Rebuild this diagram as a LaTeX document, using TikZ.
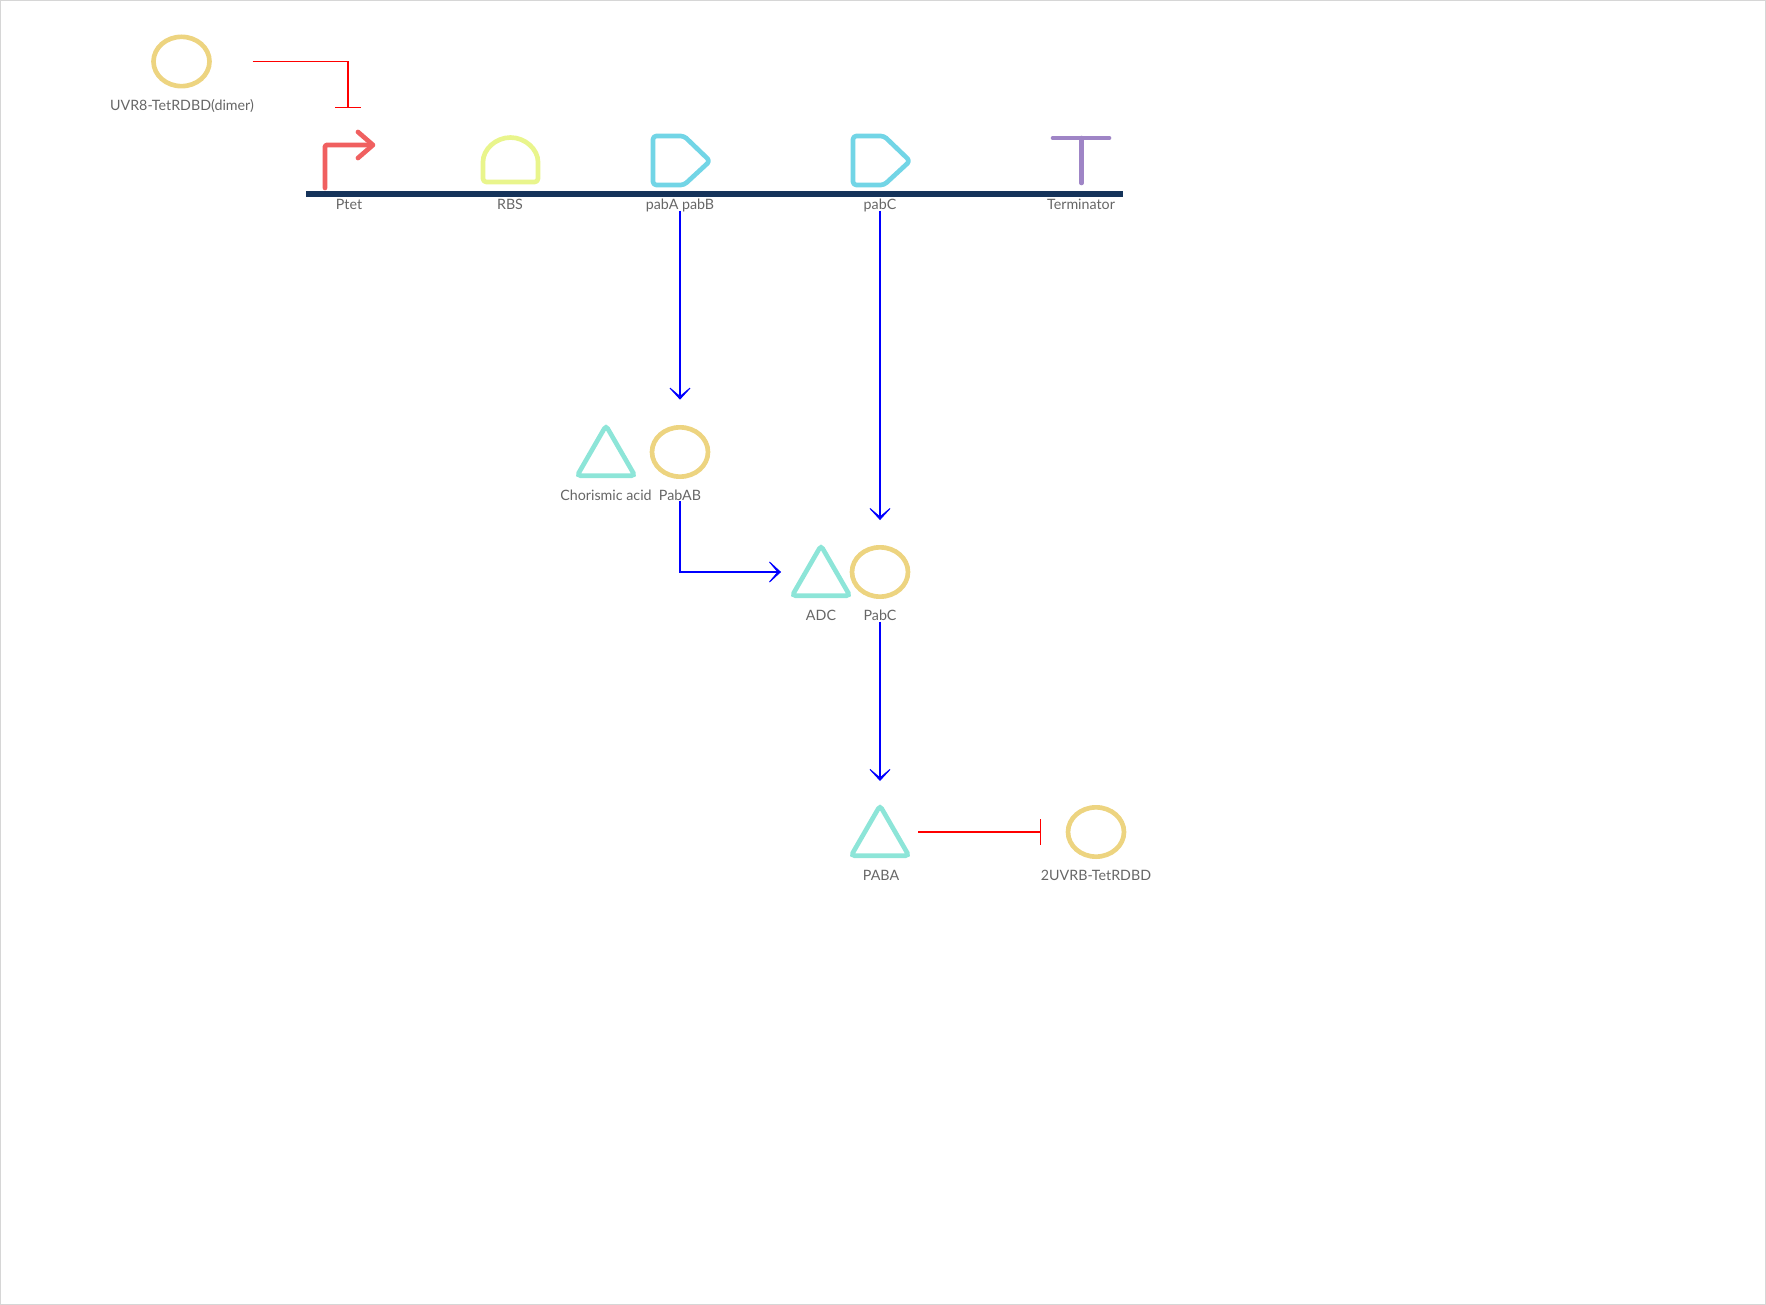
\documentclass[tikz,border=0pt]{standalone}
\usepackage{fontspec}
\setsansfont{Lato}
\usetikzlibrary{calc,arrows.meta,shapes.geometric}
\definecolor{CFRM}{RGB}{214,214,214}
\definecolor{CTXT}{RGB}{102,102,102}
\definecolor{CPRT}{RGB}{237,212,128}
\definecolor{CMOL}{RGB}{141,229,216}
\definecolor{CPRO}{RGB}{240,96,96}
\definecolor{CRBS}{RGB}{233,245,140}
\definecolor{CCDS}{RGB}{114,213,230}
\definecolor{CTER}{RGB}{159,133,198}
\definecolor{CBB}{RGB}{21,51,90}
\tikzset{
  lbl/.style={font=\sffamily\fontsize{10.7pt}{12pt}\selectfont,text=CTXT,inner sep=0pt,text height=8.8pt,text depth=0pt},
  prot/.style={draw=CPRT,ellipse,line width=3.5pt,minimum width=42pt,minimum height=37pt,inner sep=0pt},
  mol/.style={draw=CMOL,regular polygon,regular polygon sides=3,line width=3.5pt,minimum size=50pt,rounded corners=2.5pt,inner sep=0pt},
  glyph/.style={line width=3.5pt,line join=round,line cap=round,rounded corners=2.5pt},
  activ/.style={draw=blue,line width=1.4pt,-{Stealth[length=12.5pt,width=23pt,inset=9.7pt]}},
  repress/.style={draw=red,line width=1.3pt,-{Bar[width=19pt,line width=0.8pt]}}
}
\begin{document}
\begin{tikzpicture}[x=0.75pt,y=-0.75pt,font=\sffamily]
  \useasboundingbox (0,0) rectangle (1766,1305);
  \draw[CFRM,line width=0.9pt] (0.6,0.6) rectangle (1765.4,1304.4);
  % — backbone and its parts
  \fill[CBB] (306,191) rectangle (1123,197);
  \draw[glyph,CPRO,rounded corners=1pt] (325,188) -- (325,145) -- (372,145);
  \draw[glyph,CPRO,rounded corners=0pt] (358,132) -- (373,145) -- (358,158);
  \draw[glyph,CRBS] (483,182) -- (483,165) arc[start angle=180,end angle=360,radius=27.5] -- (538,182) -- cycle;
  \draw[glyph,CCDS] (653,136) -- (684,136) -- (710,161) -- (684,185) -- (653,185) -- cycle;
  \draw[glyph,CCDS] (853,136) -- (884,136) -- (910,161) -- (884,185) -- (853,185) -- cycle;
  \draw[glyph,CTER,rounded corners=0pt] (1053,138) -- (1109,138);
  \draw[glyph,CTER,rounded corners=0pt] (1081.500,138) -- (1081.500,183);
  \node[lbl] (lPtet) at (349,204) {Ptet};
  \node[lbl] (lRBS) at (510,204) {RBS};
  \node[lbl] (lpabAB) at (680,204) {pabA pabB};
  \node[lbl] (lpabC) at (880,204) {pabC};
  \node[lbl] (lTerm) at (1081,204) {Terminator};
  % — species
  \node[prot] (pUVR) at (181.500,61.500) {};
  \node[lbl] (lUVR) at (182,105) {UVR8-TetRDBD(dimer)};
  \node[mol] (mCho) at (606,459) {};
  \node[lbl] (lCho) at (606,495) {Chorismic acid};
  \node[prot] (pPabAB) at (680,452) {};
  \node[lbl] (lPabAB) at (680,495) {PabAB};
  \node[mol] (mADC) at (821,579) {};
  \node[lbl] (lADC) at (821,615) {ADC};
  \node[prot] (pPabC) at (880,572) {};
  \node[lbl] (lPabC) at (880,615) {PabC};
  \node[mol] (mPABA) at (880,839) {};
  \node[lbl] (lPABA) at (881,875) {PABA};
  \node[prot] (pUVRB) at (1096,832) {};
  \node[lbl] (lUVRB) at (1096,875) {2UVRB-TetRDBD};
  % — connectors
  \coordinate (ptetin) at (348,108);
  \draw[repress,shorten <=30.5pt] (pUVR.east) -| (ptetin);
  \draw[activ,shorten <=0.4pt,shorten >=19pt] (lpabAB.south) -- (pPabAB.north);
  \draw[activ,shorten <=0.4pt,shorten >=18.7pt] (lpabC.south) -- (pPabC.north);
  \draw[activ,shorten <=0pt,shorten >=13.5pt] (lPabAB.south) |- (mADC.west |- pPabC.west);
  \draw[activ,shorten <=0.4pt,shorten >=15pt] (lPabC.south) -- (mPABA.north);
  \draw[repress,shorten <=28.5pt,shorten >=18.3pt] (mPABA.center |- pUVRB.west) -- (pUVRB.west);
\end{tikzpicture}
\end{document}
